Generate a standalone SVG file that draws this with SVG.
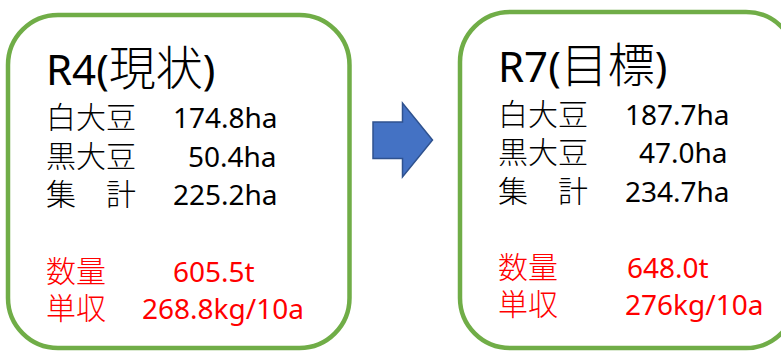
<svg xmlns="http://www.w3.org/2000/svg" width="781" height="351" viewBox="0 0 781 351">
<style>
.box{fill:#ffffff;stroke:#70AD47;stroke-width:4.5}
.t{font-family:"Noto Sans","Noto Sans CJK JP",sans-serif;fill:#000}
.j{font-family:"Noto Sans CJK JP",sans-serif;font-weight:300}
.title{font-size:42px}
.title .j{font-size:47px}
.row{font-size:28px}
.row .j{font-size:30px}
.red{fill:#FF0000}
.arrow{fill:#4472C4;stroke:#2F528F;stroke-width:1.5}
</style>
<rect width="781" height="351" fill="#ffffff"/>
<g id="node-r4">
<rect class="box" x="8" y="15" width="341.5" height="333" rx="50" ry="50"/>
<text class="t title" x="46" y="85">R4(<tspan class="j">現状</tspan>)</text>
<text class="t row" x="46" y="128"><tspan class="j">白大豆</tspan></text>
<text class="t row" x="173" y="128">174.8ha</text>
<text class="t row" x="46" y="166.5"><tspan class="j">黒大豆</tspan></text>
<text class="t row" x="188" y="166.5">50.4ha</text>
<text class="t row" x="46" y="205"><tspan class="j">集　計</tspan></text>
<text class="t row" x="173" y="205">225.2ha</text>
<text class="t row red" x="46" y="282"><tspan class="j">数量</tspan></text>
<text class="t row red" x="173" y="282">605.5t</text>
<text class="t row red" x="46" y="319"><tspan class="j">単収</tspan></text>
<text class="t row red" x="142" y="319">268.8kg/10a</text>
</g>
<g id="node-r7">
<rect class="box" x="460" y="12" width="336" height="336" rx="50" ry="50"/>
<text class="t title" x="498" y="82">R7(<tspan class="j">目標</tspan>)</text>
<text class="t row" x="498" y="125"><tspan class="j">白大豆</tspan></text>
<text class="t row" x="625" y="125">187.7ha</text>
<text class="t row" x="498" y="163"><tspan class="j">黒大豆</tspan></text>
<text class="t row" x="639" y="163">47.0ha</text>
<text class="t row" x="498" y="202"><tspan class="j">集　計</tspan></text>
<text class="t row" x="625" y="202">234.7ha</text>
<text class="t row red" x="498" y="278"><tspan class="j">数量</tspan></text>
<text class="t row red" x="627" y="278">648.0t</text>
<text class="t row red" x="498" y="315"><tspan class="j">単収</tspan></text>
<text class="t row red" x="625" y="315">276kg/10a</text>
</g>
<g id="connectors">
<path class="arrow" d="M373,122 L402.5,122 L402.5,103 L432.5,140 L402.5,177 L402.5,158.5 L373,158.5 Z"/>
</g>
</svg>
